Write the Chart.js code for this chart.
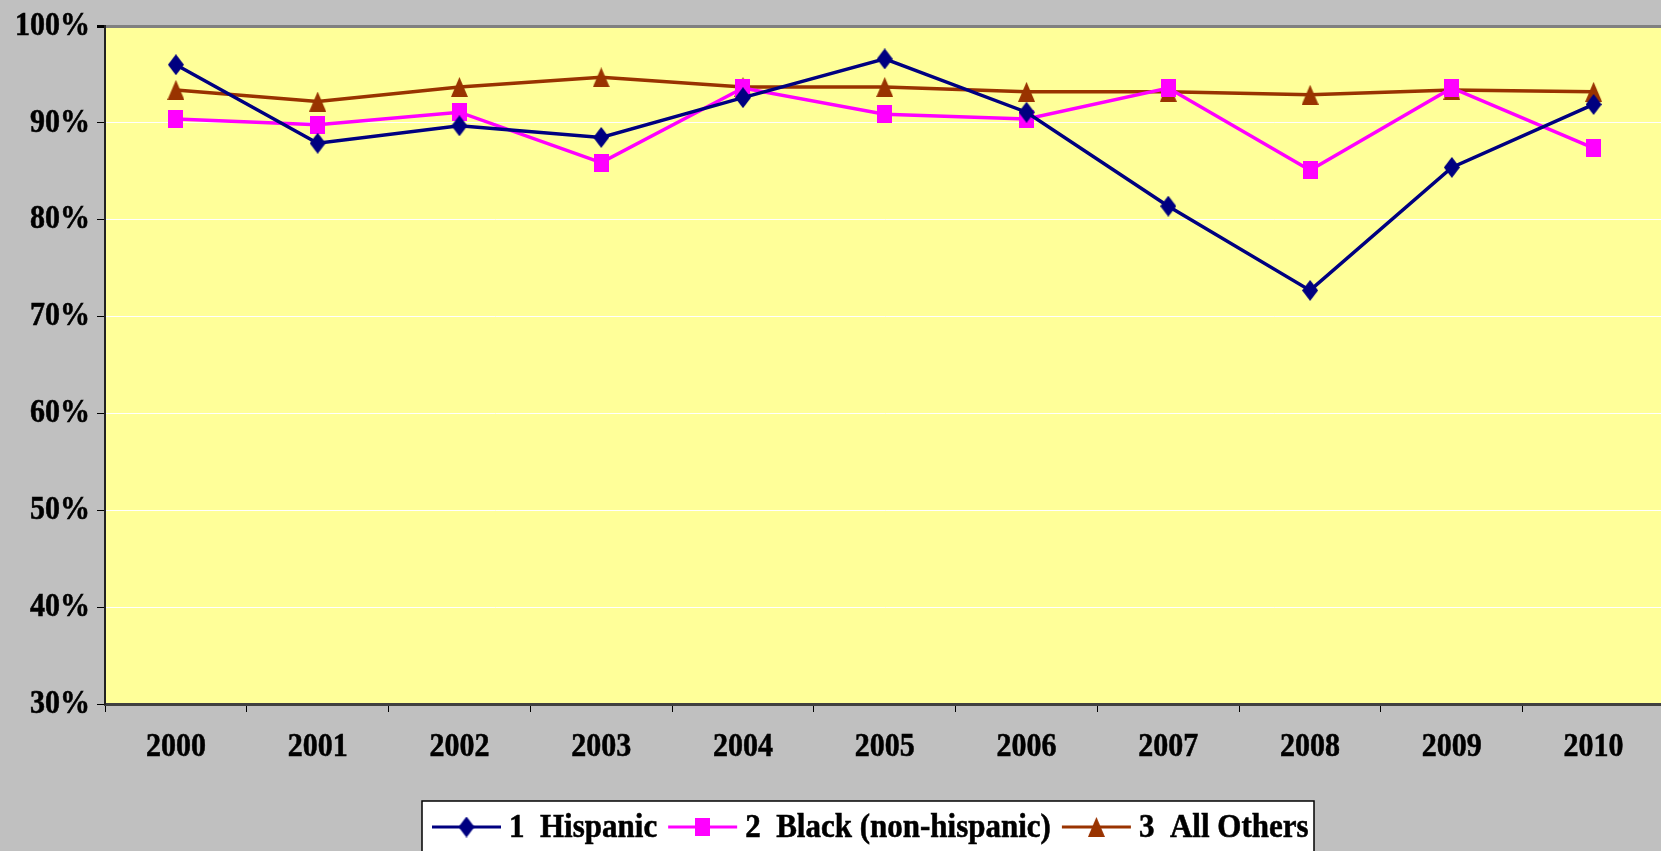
<!DOCTYPE html>
<html>
<head>
<meta charset="utf-8">
<script src="https://cdn.jsdelivr.net/npm/chart.js@4"></script>
<style>
  html, body { margin: 0; padding: 0; background: #c0c0c0; overflow: hidden; }
  .chart-wrap { position: relative; width: 1672px; height: 851px; }
</style>
</head>
<body>
<div class="chart-wrap">
  <canvas id="rates"></canvas>
</div>
<script>
const years = ['2000', '2001', '2002', '2003', '2004', '2005', '2006', '2007', '2008', '2009', '2010'];
const hispanic = [96.0, 87.9, 89.7, 88.5, 92.6, 96.6, 91.1, 81.4, 72.7, 85.4, 91.9];
const black = [90.4, 89.8, 91.1, 85.9, 93.6, 90.9, 90.4, 93.6, 85.1, 93.6, 87.4];
const allOthers = [93.4, 92.2, 93.7, 94.7, 93.7, 93.7, 93.2, 93.2, 92.9, 93.4, 93.2];
const yTicks = [30, 40, 50, 60, 70, 80, 90, 100];

const FONT = 'Liberation Serif, "Times New Roman", serif';
const TEXT_STRETCH = 1.12; // labels are drawn slightly taller than the font

// small canvases used as point markers (a bit taller than wide)
function marker(shape, w, h, color) {
    const c = document.createElement('canvas');
    c.width = w;
    c.height = h;
    const g = c.getContext('2d');
    g.fillStyle = color;
    g.beginPath();
    if (shape === 'diamond') {
        g.moveTo(w / 2, 0);
        g.lineTo(w, h / 2);
        g.lineTo(w / 2, h);
        g.lineTo(0, h / 2);
    } else if (shape === 'triangle') {
        g.moveTo(w / 2, 0);
        g.lineTo(w, h);
        g.lineTo(0, h);
    } else {
        g.rect(0, 0, w, h);
    }
    g.closePath();
    g.fill();
    return c;
}

const diamond = marker('diamond', 16, 21, '#000080');
const square = marker('square', 15, 18, '#ff00ff');
const triangle = marker('triangle', 17, 20, '#993300');

function tallText(ctx, text, x, y, align, baseline) {
    ctx.save();
    ctx.translate(x, y);
    ctx.scale(1, TEXT_STRETCH);
    ctx.textAlign = align;
    ctx.textBaseline = baseline;
    ctx.fillText(text, 0, 0);
    ctx.lineWidth = 0.5;
    ctx.strokeStyle = '#000000';
    ctx.strokeText(text, 0, 0);
    ctx.restore();
}

const plotBackground = {
    id: 'plotBackground',
    beforeDraw(chart) {
        const { ctx, chartArea: a } = chart;
        ctx.save();
        ctx.fillStyle = '#ffff99';
        ctx.fillRect(a.left, a.top, a.right - a.left, a.bottom - a.top);
        ctx.restore();
    }
};

// axis labels, placed from the scales' own tick positions
const axisLabels = {
    id: 'axisLabels',
    afterDraw(chart) {
        const ctx = chart.ctx;
        const xs = chart.scales.x;
        const ys = chart.scales.y;
        ctx.save();
        ctx.fillStyle = '#000000';
        ctx.font = 'bold 30px ' + FONT;
        ys.ticks.forEach((t) => {
            tallText(ctx, t.value + '%', ys.right - 15, ys.getPixelForValue(t.value), 'right', 'middle');
        });
        years.forEach((yr, i) => {
            tallText(ctx, yr, xs.getPixelForTick(i), xs.top + 43, 'center', 'middle');
        });
        ctx.restore();
    }
};

// boxed legend under the plot
const boxedLegend = {
    id: 'boxedLegend',
    afterDraw(chart) {
        const ctx = chart.ctx;
        const box = { x: 422, y: 801, w: 892, h: 70 };
        ctx.save();
        ctx.fillStyle = '#ffffff';
        ctx.fillRect(box.x, box.y, box.w, box.h);
        ctx.strokeStyle = '#000000';
        ctx.lineWidth = 1.5;
        ctx.strokeRect(box.x, box.y, box.w, box.h);

        ctx.font = 'bold 31px ' + FONT;
        ctx.fillStyle = '#000000';
        const cy = 827;
        let x = 432;
        chart.data.datasets.forEach((ds) => {
            ctx.strokeStyle = ds.borderColor;
            ctx.lineWidth = 3;
            ctx.beginPath();
            ctx.moveTo(x, cy);
            ctx.lineTo(x + 69, cy);
            ctx.stroke();
            const img = ds.pointStyle;
            ctx.drawImage(img, x + 34.5 - img.width / 2, cy - img.height / 2);
            x += 69 + 8;
            tallText(ctx, ds.label, x, 837, 'left', 'alphabetic');
            x += ctx.measureText(ds.label).width + 11;
        });
        ctx.restore();
    }
};

new Chart(document.getElementById('rates'), {
    type: 'line',
    data: {
        labels: years,
        datasets: [
            {
                label: '1  Hispanic',
                data: hispanic,
                borderColor: '#000080',
                pointStyle: diamond
            },
            {
                label: '2  Black (non-hispanic)',
                data: black,
                borderColor: '#ff00ff',
                pointStyle: square
            },
            {
                label: '3  All Others',
                data: allOthers,
                borderColor: '#993300',
                pointStyle: triangle
            }
        ]
    },
    options: {
        responsive: true,
        maintainAspectRatio: false,
        animation: false,
        devicePixelRatio: 1,
        datasets: {
            line: { borderWidth: 3.5, tension: 0, fill: false }
        },
        layout: { padding: { top: 26, left: 0, right: 0, bottom: 87 } },
        scales: {
            x: {
                offset: true,
                afterFit: (s) => { s.height = 60; },
                grid: {
                    offset: true,
                    drawOnChartArea: false,
                    drawTicks: true,
                    tickLength: 8,
                    tickColor: '#000000'
                },
                border: { display: true, color: '#404040', width: 3 },
                ticks: { display: false }
            },
            y: {
                min: 30,
                max: 100,
                afterFit: (s) => { s.width = 105; },
                afterBuildTicks: (s) => { s.ticks = yTicks.map((v) => ({ value: v })); },
                grid: {
                    color: (c) => c.tick && c.tick.value === 100 ? '#808080'
                        : (c.tick && c.tick.value === 30 ? 'rgba(0,0,0,0)' : '#ffffff'),
                    lineWidth: (c) => c.tick && c.tick.value === 100 ? 3 : 1,
                    tickColor: '#000000',
                    tickLength: 8
                },
                border: { display: true, color: '#222222', width: 2 },
                ticks: { display: false }
            }
        },
        plugins: {
            legend: { display: false },
            tooltip: { enabled: false }
        }
    },
    plugins: [plotBackground, axisLabels, boxedLegend]
});
</script>
</body>
</html>
